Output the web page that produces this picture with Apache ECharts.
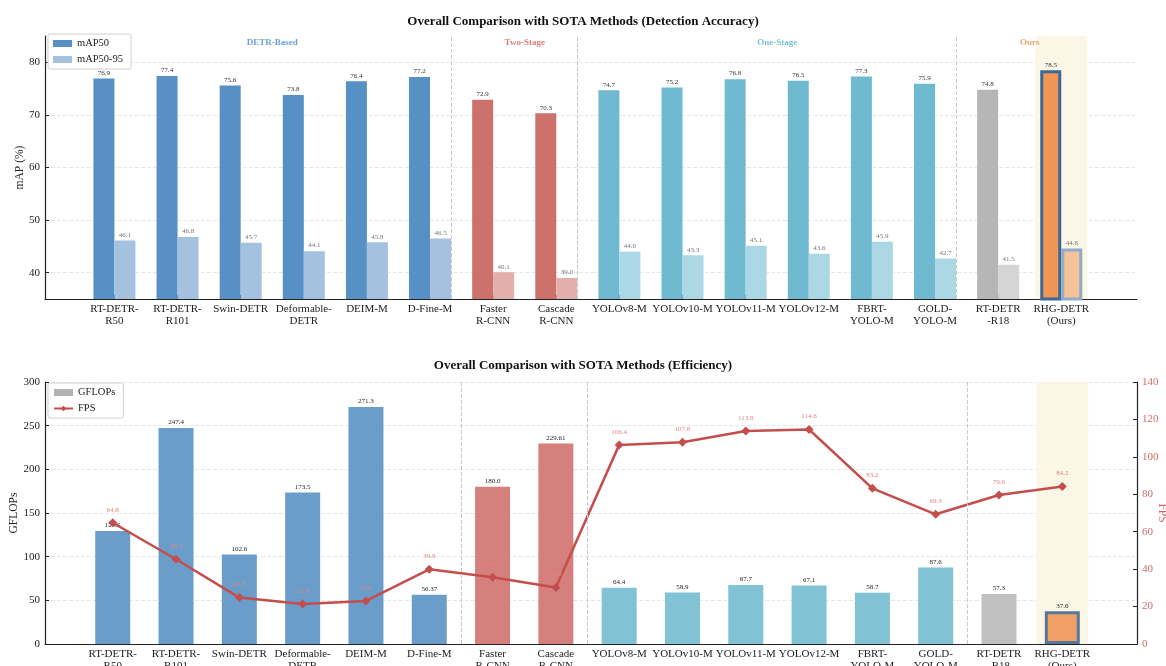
<!DOCTYPE html>
<html>
<head>
<meta charset="utf-8">
<script src="https://cdn.jsdelivr.net/npm/echarts@6/dist/echarts.min.js"></script>
<style>
  html, body { margin: 0; padding: 0; background: #fff; }
  #chart { width: 1166px; height: 666px; }
</style>
</head>
<body>
<div id="chart"></div>
<script>
// data
const methods = ['RT-DETR-\nR50', 'RT-DETR-\nR101', 'Swin-DETR', 'Deformable-\nDETR', 'DEIM-M', 'D-Fine-M',
  'Faster\nR-CNN', 'Cascade\nR-CNN', 'YOLOv8-M', 'YOLOv10-M', 'YOLOv11-M', 'YOLOv12-M',
  'FBRT-\nYOLO-M', 'GOLD-\nYOLO-M', 'RT-DETR\n-R18', 'RHG-DETR\n(Ours)']
const family = ['DETR-Based', 'DETR-Based', 'DETR-Based', 'DETR-Based', 'DETR-Based', 'DETR-Based',
  'Two-Stage', 'Two-Stage', 'One-Stage', 'One-Stage', 'One-Stage', 'One-Stage', 'One-Stage', 'One-Stage',
  'Ours', 'Ours']
const colorKey = ['detr', 'detr', 'detr', 'detr', 'detr', 'detr', 'two', 'two',
  'one', 'one', 'one', 'one', 'one', 'one', 'base', 'ours']
const map50 = [76.9, 77.4, 75.6, 73.8, 76.4, 77.2, 72.9, 70.3, 74.7, 75.2, 76.8, 76.5, 77.3, 75.9, 74.8, 78.5]
const map5095 = [46.1, 46.8, 45.7, 44.1, 45.8, 46.5, 40.1, 39.0, 44.0, 43.3, 45.1, 43.6, 45.9, 42.7, 41.5, 44.6]
const gflops = [129.5, 247.4, 102.6, 173.5, 271.3, 56.37, 180.0, 229.61, 64.4, 58.9, 67.7, 67.1, 58.7, 87.6, 57.3, 37.6]
const fps = [64.8, 45.3, 24.8, 21.4, 23.0, 39.9, 35.7, 30.2, 106.4, 107.8, 113.8, 114.6, 83.2, 69.3, 79.6, 84.2]
const mapTicks = [40, 50, 60, 70, 80]

const font = 'Liberation Serif'
const dark = { detr: '#5690c5', two: '#cc716c', one: '#6fbad0', base: '#b6b6b6', ours: '#f09554' }
const light = { detr: '#a4c2df', two: '#e3afad', one: '#acd8e5', base: '#d5d5d5', ours: '#f5c398' }
const eff = { detr: '#6b9dcb', two: '#d5807d', one: '#81c3d5', base: '#c0c0c0', ours: '#f0a065' }
const famColor = { 'DETR-Based': '#4b88c5', 'Two-Stage': '#c95f5b', 'One-Stage': '#56b3cc', 'Ours': '#f08c4c' }

const idx = methods.map((_, i) => i)
const oursIdx = methods.length - 1
// dashed separators between method families
const seps = []
for (let i = 0; i < family.length - 1; i++) if (family[i] !== family[i + 1]) seps.push(i + 0.5)
const famNames = [...new Set(family)]
const famCenters = famNames.map(f => {
  const ii = idx.filter(i => family[i] === f)
  return (ii[0] + ii[ii.length - 1]) / 2
})

const fmt = v => (Math.round(v * 10) === v * 10 ? v.toFixed(1) : String(v))

function barItems(vals, pal, hl) {
  return vals.map((v, i) => {
    const it = { value: [i, v], itemStyle: { color: pal[colorKey[i]] } }
    if (i === oursIdx) Object.assign(it.itemStyle, hl)
    return it
  })
}

const sepLine = {
  silent: true, symbol: 'none', label: { show: false },
  lineStyle: { type: 'dashed', color: '#c8c8c8', width: 1 },
  data: seps.map(x => ({ xAxis: x }))
}
const oursArea = {
  silent: true, itemStyle: { color: '#fcf6e7' },
  data: [[{ xAxis: oursIdx - 0.41 }, { xAxis: oursIdx + 0.41 }]]
}

function xAxisCfg(gridIndex, min, max) {
  return {
    type: 'value', gridIndex, min, max,
    splitLine: { show: false },
    axisLine: { show: true, onZero: false, lineStyle: { color: '#222', width: 1.2 } },
    axisTick: { show: true, inside: true, length: 4, customValues: idx, lineStyle: { color: '#222' } },
    axisLabel: {
      customValues: idx, formatter: v => methods[Math.round(v)],
      fontFamily: font, fontSize: 11, color: '#222', lineHeight: 12, margin: 4
    }
  }
}
const nameStyle = (c) => ({ fontFamily: font, fontSize: 11.5, color: c })
const gridLine = { show: true, lineStyle: { type: 'dashed', color: '#e8e8e8', width: 1 } }
const yLine = { show: true, onZero: false, lineStyle: { color: '#222', width: 1.2 } }
const legendBox = {
  orient: 'vertical', left: 48, padding: [4, 8, 4, 5], itemWidth: 19, itemHeight: 7, itemGap: 5,
  borderColor: '#d0d0d0', borderWidth: 1, borderRadius: 2, backgroundColor: 'rgba(255,255,255,0.9)',
  textStyle: { fontFamily: font, fontSize: 10.5, color: '#222' }
}

const chart = echarts.init(document.getElementById('chart'))
chart.setOption({
  animation: false,
  textStyle: { fontFamily: font },
  title: [
    { text: 'Overall Comparison with SOTA Methods (Detection Accuracy)', left: 'center', top: 10,
      textStyle: { fontFamily: font, fontSize: 13, fontWeight: 'bold', color: '#111' } },
    { text: 'Overall Comparison with SOTA Methods (Efficiency)', left: 'center', top: 354,
      textStyle: { fontFamily: font, fontSize: 13, fontWeight: 'bold', color: '#111' } }
  ],
  legend: [
    Object.assign({ data: ['mAP50', 'mAP50-95'], top: 34, icon: 'rect' }, legendBox),
    Object.assign({ data: [{ name: 'GFLOPs', icon: 'rect' }, { name: 'FPS' }], top: 383 }, legendBox)
  ],
  grid: [
    { left: 45, right: 29, top: 36, height: 263, outerBoundsMode: 'none' },
    { left: 45, right: 29, top: 382, height: 262, outerBoundsMode: 'none' }
  ],
  xAxis: [xAxisCfg(0, -1.1, 16.2), xAxisCfg(1, -1.07, 16.18)],
  yAxis: [
    { type: 'value', gridIndex: 0, min: 35, max: 85,
      name: 'mAP (%)', nameLocation: 'middle', nameGap: 19, nameMoveOverlap: false, nameTextStyle: nameStyle('#222'),
      axisLine: yLine,
      axisTick: { show: true, inside: true, length: 4, customValues: mapTicks, lineStyle: { color: '#222' } },
      axisLabel: { customValues: mapTicks, fontFamily: font, fontSize: 11, color: '#222', margin: 5 },
      splitLine: gridLine },
    { type: 'value', gridIndex: 1, min: 0, max: 300, interval: 50,
      name: 'GFLOPs', nameLocation: 'middle', nameGap: 25, nameMoveOverlap: false, nameTextStyle: nameStyle('#222'),
      axisLine: yLine,
      axisTick: { show: true, inside: true, length: 4, lineStyle: { color: '#222' } },
      axisLabel: { fontFamily: font, fontSize: 11, color: '#222', margin: 5 },
      splitLine: gridLine },
    { type: 'value', gridIndex: 1, min: 0, max: 140, interval: 20, position: 'right',
      name: 'FPS', nameLocation: 'middle', nameGap: 19, nameRotate: -90, nameMoveOverlap: false,
      nameTextStyle: nameStyle('#d06a6a'),
      axisLine: yLine,
      axisTick: { show: true, inside: true, length: 4, lineStyle: { color: '#222' } },
      axisLabel: { fontFamily: font, fontSize: 11, color: '#d06a6a', margin: 5 },
      splitLine: { show: false } }
  ],
  series: [
    { name: 'mAP50', type: 'bar', xAxisIndex: 0, yAxisIndex: 0, barWidth: 21, barGap: '0%',
      itemStyle: { color: dark.detr },
      data: barItems(map50, dark, { borderColor: '#3b6894', borderWidth: 3 }),
      label: { show: true, position: 'top', distance: 2, fontSize: 7, color: '#333',
        formatter: p => fmt(p.value[1]) },
      markArea: oursArea, markLine: sepLine },
    { name: 'mAP50-95', type: 'bar', xAxisIndex: 0, yAxisIndex: 0, barWidth: 21, barGap: '0%',
      itemStyle: { color: light.detr },
      data: barItems(map5095, light, { borderColor: '#8fadc9', borderWidth: 3 }),
      label: { show: true, position: 'top', distance: 2, fontSize: 7, color: '#777',
        formatter: p => fmt(p.value[1]) } },
    { name: 'family', type: 'scatter', xAxisIndex: 0, yAxisIndex: 0, symbolSize: 0, silent: true,
      data: famNames.map((f, k) => ({ value: [famCenters[k], 83.7], name: f, label: { color: famColor[f] } })),
      label: { show: true, position: 'inside', formatter: '{b}', fontSize: 9, fontWeight: 'bold' } },
    { name: 'GFLOPs', type: 'bar', xAxisIndex: 1, yAxisIndex: 1, barWidth: 35,
      itemStyle: { color: '#b3b3b3' },
      data: barItems(gflops, eff, { borderColor: '#56789a', borderWidth: 3 }),
      label: { show: true, position: 'top', distance: 2, fontSize: 7, color: '#222',
        formatter: p => fmt(p.value[1]) },
      markArea: oursArea, markLine: sepLine },
    { name: 'FPS', type: 'line', xAxisIndex: 1, yAxisIndex: 2, z: 4,
      data: fps.map((v, i) => [i, v]),
      symbol: 'diamond', symbolSize: 9,
      itemStyle: { color: '#c44e4b' }, lineStyle: { color: '#c44e4b', width: 2.5 },
      label: { show: true, position: 'top', distance: 5, fontSize: 7, color: '#e08585',
        formatter: p => fmt(p.value[1]) } }
  ]
})
</script>
</body>
</html>
